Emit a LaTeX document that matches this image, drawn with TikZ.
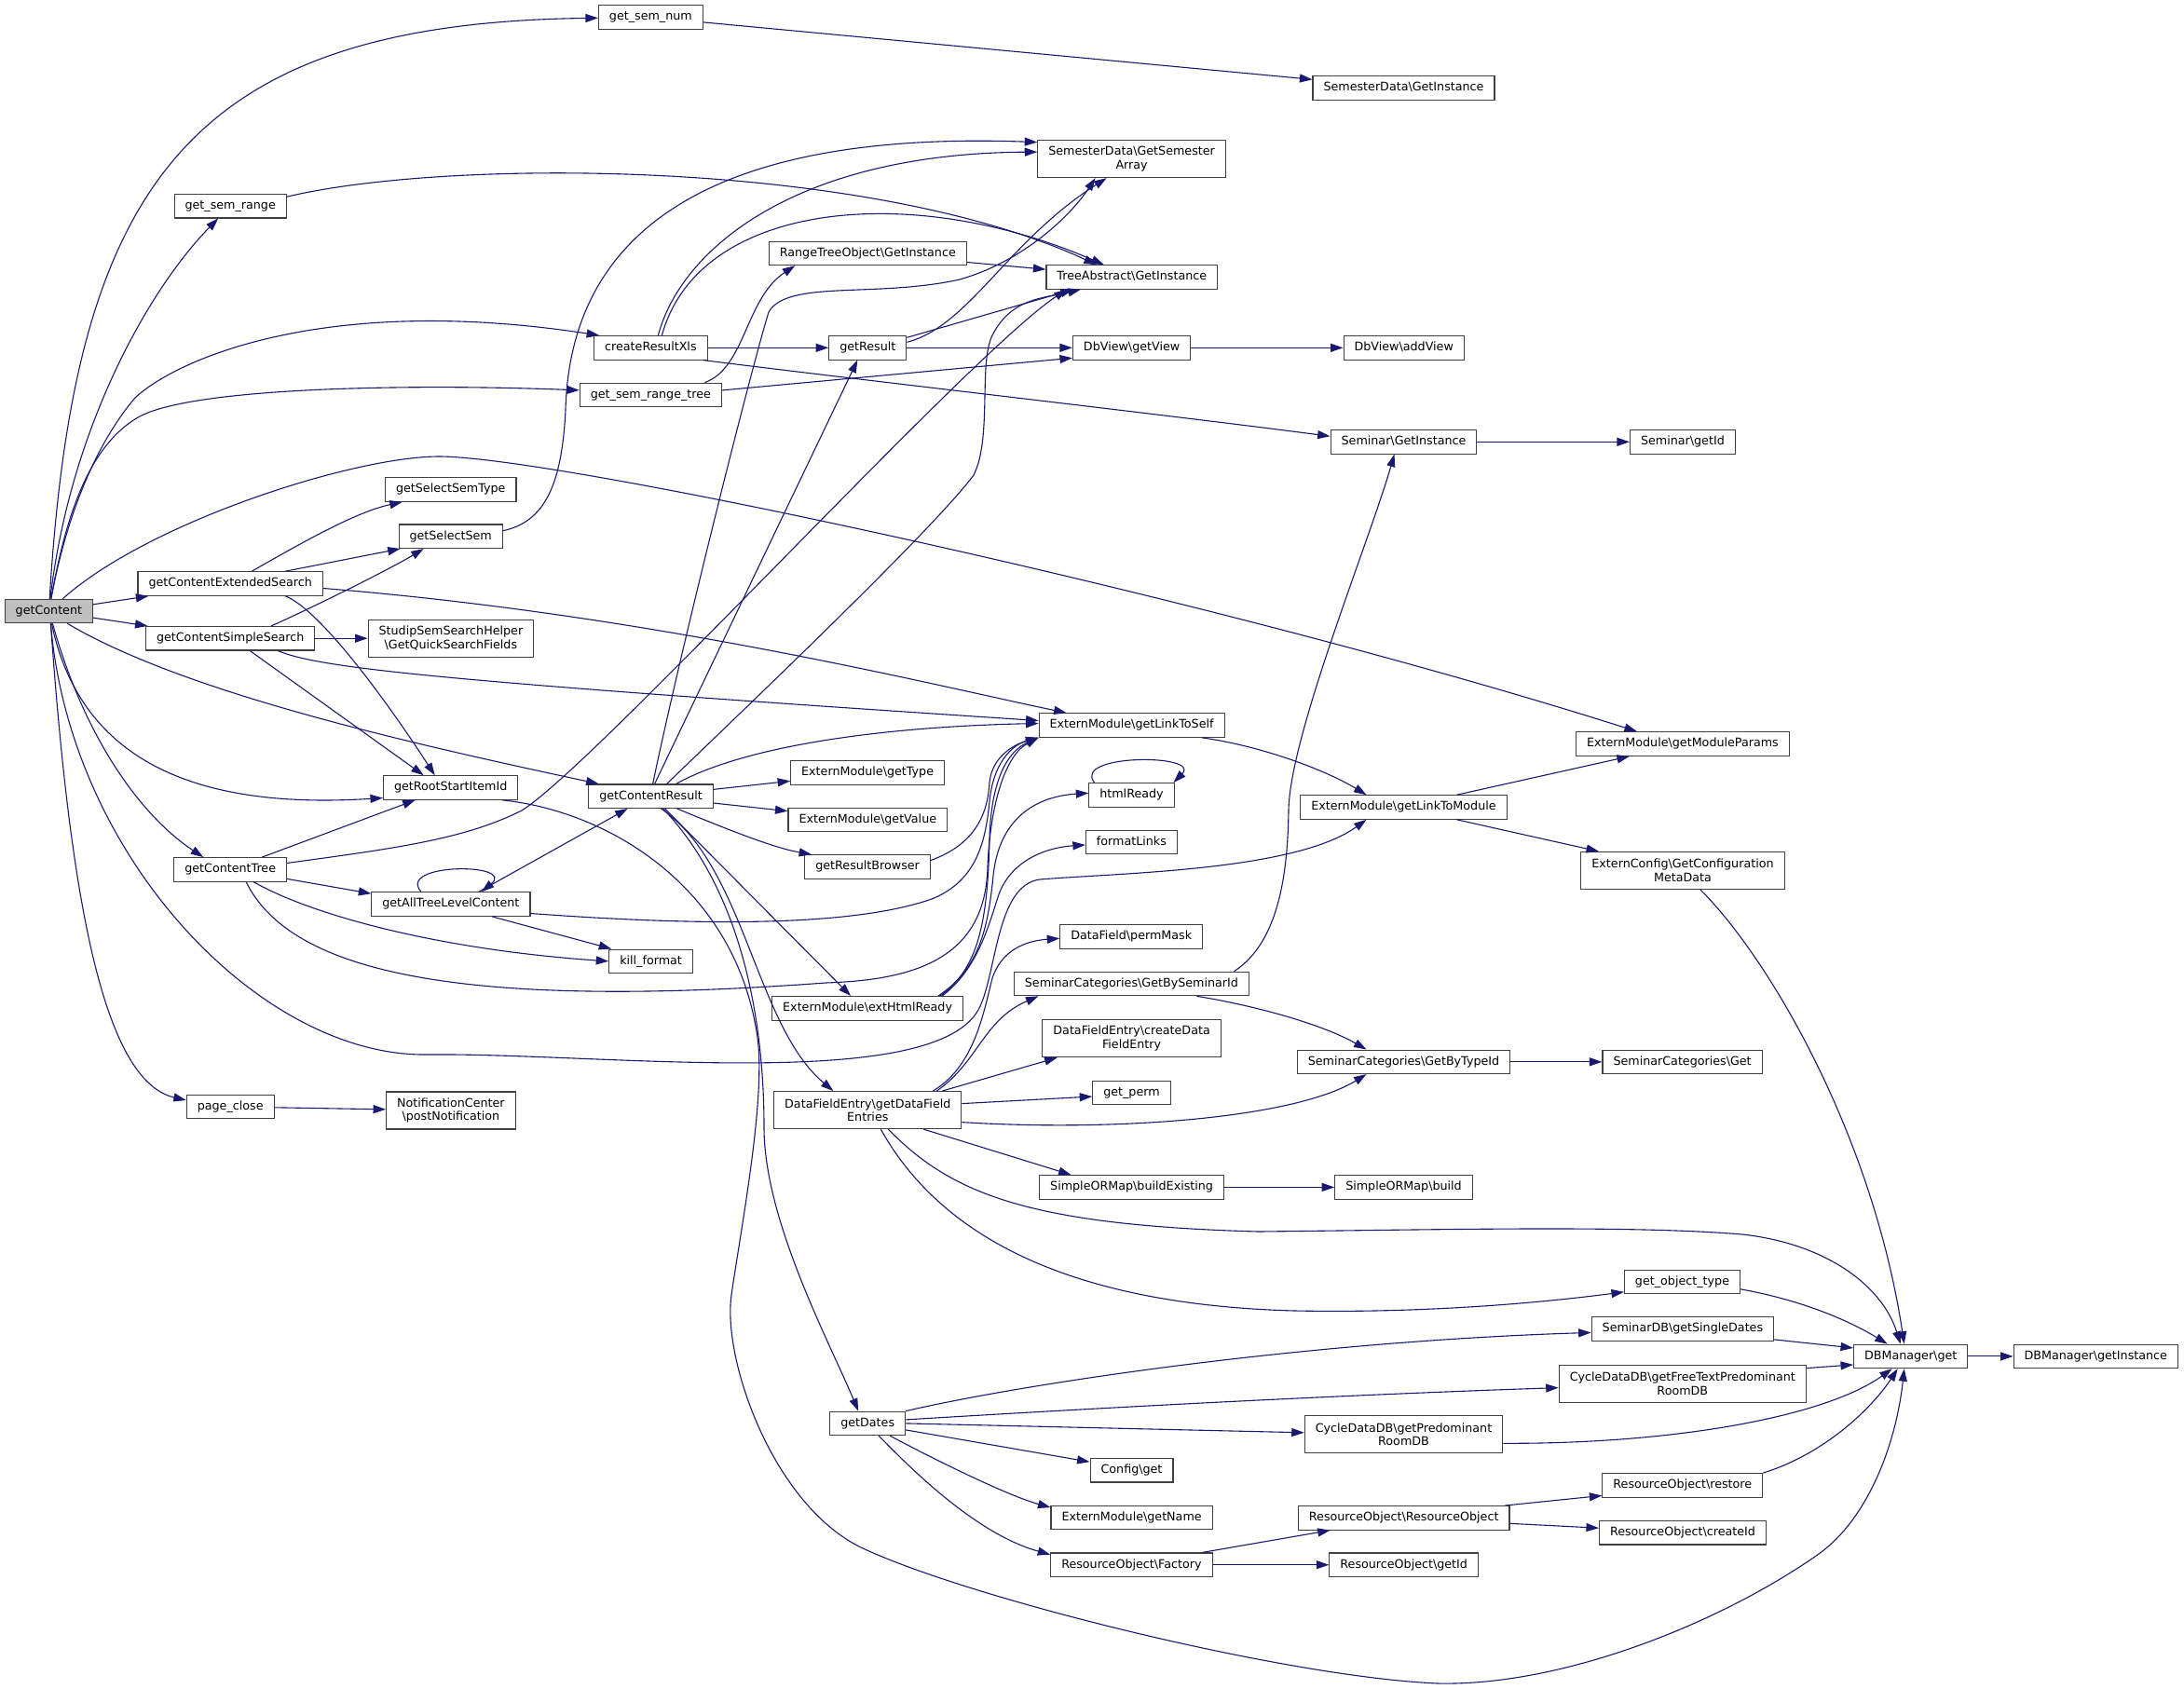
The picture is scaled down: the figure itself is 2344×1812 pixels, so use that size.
\documentclass[tikz,border=0pt]{standalone}
\usepackage{fontspec}
\setmainfont{DejaVu Sans}
\usetikzlibrary{arrows.meta}
\definecolor{edgeblue}{HTML}{191970}
\definecolor{boxline}{HTML}{404040}
\definecolor{rootfill}{HTML}{BFBFBF}
\newcommand{\bsl}{\textbackslash}

\begin{document}
\begin{tikzpicture}[x=1pt,y=-1pt,
  fn/.style={draw=boxline,line width=1.1pt,fill=white,inner xsep=11.5pt,inner ysep=6.4pt,text height=9.7pt,text depth=3pt,font={\fontsize{12.7}{14.6}\selectfont}},
  fnii/.style={draw=boxline,line width=1.1pt,fill=white,inner xsep=11.5pt,inner ysep=6pt,minimum height=40pt,align=center,font={\fontsize{12.7}{14.6}\selectfont}},
  callline/.style={draw=edgeblue,line width=1.1pt,-{Triangle[length=13.5pt,width=9pt]}}]
\path[use as bounding box,fill=white] (0,0) rectangle (2344,1812);

\node[fn,fill=rootfill] (gC) at (52.4,656) {getContent};
\node[fn] (gsn) at (698.4,18.6) {get\_sem\_num};
\node[fn] (gsr) at (247.2,221.2) {get\_sem\_range};
\node[fnii] (sdgsa) at (1214.6,170.6) {SemesterData\bsl GetSemester\\Array};
\node[fn] (sdgi) at (1506.5,94.5) {SemesterData\bsl GetInstance};
\node[fn] (rto) at (931.3,271.9) {RangeTreeObject\bsl GetInstance};
\node[fn] (tagi) at (1214.8,297.5) {TreeAbstract\bsl GetInstance};
\node[fn] (crx) at (698.4,373.3) {createResultXls};
\node[fn] (gres) at (931.3,373.3) {getResult};
\node[fn] (dbgv) at (1214.6,373.3) {DbView\bsl getView};
\node[fn] (dbav) at (1506.7,373.3) {DbView\bsl addView};
\node[fn] (gsrt) at (698.4,423.9) {get\_sem\_range\_tree};
\node[fn] (sgi) at (1506.5,474.3) {Seminar\bsl GetInstance};
\node[fn] (sid) at (1805.9,474.3) {Seminar\bsl getId};
\node[fn] (gsst) at (483.8,525.5) {getSelectSemType};
\node[fn] (gss) at (483.7,575.7) {getSelectSem};
\node[fn] (gces) at (247.2,626.5) {getContentExtendedSearch};
\node[fn] (gcss) at (247.2,685.2) {getContentSimpleSearch};
\node[fnii] (sssh) at (483.9,685.2) {StudipSemSearchHelper\\\bsl GetQuickSearchFields};
\node[fn] (elts) at (1214.6,778.5) {ExternModule\bsl getLinkToSelf};
\node[fn] (emp) at (1805.9,798.5) {ExternModule\bsl getModuleParams};
\node[fn] (gcr) at (698.6,854.7) {getContentResult};
\node[fn] (gtype) at (931.1,829.3) {ExternModule\bsl getType};
\node[fn] (grsi) at (483.7,845.5) {getRootStartItemId};
\node[fn] (hr) at (1214.5,853.3) {htmlReady};
\node[fn] (eltm) at (1506.5,866.5) {ExternModule\bsl getLinkToModule};
\node[fn] (gval) at (931.3,880) {ExternModule\bsl getValue};
\node[fn] (fl) at (1214.4,903.9) {formatLinks};
\node[fn] (grb) at (931.1,930.5) {getResultBrowser};
\node[fn] (gct) at (247.2,933.4) {getContentTree};
\node[fnii] (ecfg) at (1806,934.5) {ExternConfig\bsl GetConfiguration\\MetaData};
\node[fn] (gatl) at (483.9,970.5) {getAllTreeLevelContent};
\node[fn] (dfpm) at (1214.2,1005.3) {DataField\bsl permMask};
\node[fn] (kf) at (698.6,1031.8) {kill\_format};
\node[fn] (scbs) at (1214.4,1056) {SeminarCategories\bsl GetBySeminarId};
\node[fn] (ehr) at (931.1,1082.3) {ExternModule\bsl extHtmlReady};
\node[fnii] (dfcd) at (1214.6,1114.7) {DataFieldEntry\bsl createData\\FieldEntry};
\node[fn] (pc) at (247.2,1188) {page\_close};
\node[fnii] (nc) at (483.9,1192) {NotificationCenter\\\bsl postNotification};
\node[fnii] (dfge) at (931.3,1191.6) {DataFieldEntry\bsl getDataField\\Entries};
\node[fn] (scbt) at (1506.5,1139.8) {SeminarCategories\bsl GetByTypeId};
\node[fn] (scg) at (1805.6,1139.8) {SeminarCategories\bsl Get};
\node[fn] (gp) at (1214.5,1173) {get\_perm};
\node[fn] (sobe) at (1214.6,1274.4) {SimpleORMap\bsl buildExisting};
\node[fn] (sob) at (1506.5,1274.4) {SimpleORMap\bsl build};
\node[fn] (got) at (1805.5,1375.8) {get\_object\_type};
\node[fn] (sdb) at (1805.9,1426.4) {SeminarDB\bsl getSingleDates};
\node[fn] (dbm) at (2050.7,1455.9) {DBManager\bsl get};
\node[fn] (dbmi) at (2249.3,1455.9) {DBManager\bsl getInstance};
\node[fnii] (cfree) at (1805.8,1485.1) {CycleDataDB\bsl getFreeTextPredominant\\RoomDB};
\node[fn] (gd) at (931.2,1527.9) {getDates};
\node[fnii] (cpre) at (1506.5,1539.8) {CycleDataDB\bsl getPredominant\\RoomDB};
\node[fn] (cfg) at (1214.5,1578.2) {Config\bsl get};
\node[fn] (ror) at (1805.8,1594.4) {ResourceObject\bsl restore};
\node[fn] (emgn) at (1214.6,1629.1) {ExternModule\bsl getName};
\node[fn] (roro) at (1506.7,1629.3) {ResourceObject\bsl ResourceObject};
\node[fn] (roc) at (1806,1645.2) {ResourceObject\bsl createId};
\node[fn] (rof) at (1214.4,1679.7) {ResourceObject\bsl Factory};
\node[fn] (roid) at (1506.7,1679.7) {ResourceObject\bsl getId};

\draw[callline] (gC) .. controls (80,200) and (200,25) .. (gsn);
\draw[callline] (gC) .. controls (75,460) and (160,310) .. (gsr);
\draw[callline] (gC) .. controls (70,560) and (100,480) .. (145,427) .. controls (190,385) and (350,315) .. ([xshift=6pt]crx.north west);
\draw[callline] (gC) .. controls (68,570) and (90,480) .. (150,447) .. controls (210,415) and (450,412) .. ([yshift=5pt]gsrt.west);
\draw[callline] (gC) .. controls (160,560) and (380,490) .. (471,490) .. controls (600,490) and (1300,640) .. ([xshift=-49pt]emp.north);
\draw[callline] (gC) -- (gces);
\draw[callline] (gC) -- (gcss);
\draw[callline] ([xshift=20pt]gC.south) .. controls (200,745) and (450,800) .. ([xshift=-56pt]gcr.north);
\draw[callline] ([xshift=3pt]gC.south) .. controls (85,810) and (200,870) .. ([yshift=-11pt]grsi.west);
\draw[callline] ([xshift=4pt]gC.south) .. controls (90,790) and (150,875) .. ([xshift=-29pt]gct.north);
\draw[callline] ([xshift=2pt]gC.south) .. controls (75,920) and (280,1135) .. (459,1132) .. controls (650,1130) and (1010,1175) .. (1052,1080) .. controls (1070,1040) and (1070,950) .. (1116,944) .. controls (1200,937) and (1390,935) .. ([xshift=-40pt]eltm.south);
\draw[callline] ([xshift=2pt]gC.south) .. controls (75,960) and (110,1160) .. ([yshift=7pt]pc.west);

\draw[callline] ([xshift=23pt]gces.north) .. controls (320,585) and (380,550) .. ([xshift=-52pt]gsst.south);
\draw[callline] ([xshift=59pt]gces.north) -- ([xshift=-54pt]gss.south);
\draw[callline] ([xshift=59pt]gces.south) .. controls (345,655) and (420,760) .. ([xshift=-17pt]grsi.north);
\draw[callline] ([yshift=-5pt]gces.east) .. controls (700,660) and (1000,735) .. ([xshift=-70pt]elts.north);
\draw[callline] ([xshift=44pt]gcss.north) .. controls (340,650) and (420,610) .. ([xshift=-29pt]gss.south);
\draw[callline] (gcss) -- (sssh);
\draw[callline] ([xshift=21pt]gcss.south) -- ([xshift=-29pt]grsi.north);
\draw[callline] ([xshift=51pt]gcss.south) .. controls (340,716) and (450,730) .. ([yshift=5pt]elts.west);
\draw[callline] ([xshift=34pt]gct.north) -- ([xshift=-38pt]grsi.south);
\draw[callline] ([yshift=-10pt]gct.east) -- ([yshift=-2pt]gatl.north west);
\draw[callline] ([xshift=25pt]gct.south) .. controls (340,985) and (480,1020) .. (kf.west);
\draw[callline] ([xshift=17pt]gct.south) .. controls (310,1040) and (480,1085) .. (886,1055) .. controls (980,1052) and (1058,1030) .. (1060,930) .. controls (1063,860) and (1080,810) .. (elts.south west);
\draw[callline] ([yshift=7pt]gct.east) .. controls (430,910) and (500,900) .. (560,870) .. controls (640,820) and (1040,380) .. ([xshift=-70pt]tagi.south);
\draw[callline] (pc) -- (nc);

\draw[callline] ([xshift=-32pt]gatl.north) .. controls (425,926) and (555,926) .. ([xshift=33pt]gatl.north);
\draw[callline] ([xshift=30pt]gatl.north) -- ([xshift=-25pt]gcr.south);
\draw[callline] ([yshift=-10pt]gatl.east) .. controls (700,990) and (900,1000) .. (1000,965) .. controls (1050,945) and (1058,900) .. (1062,860) .. controls (1066,820) and (1085,800) .. (elts.south west);
\draw[callline] ([xshift=44pt]gatl.south) -- ([xshift=3pt]kf.north west);
\draw[callline] ([yshift=6pt]gss.east) .. controls (585,560) and (603,520) .. (607,440) .. controls (612,250) and (760,140) .. ([yshift=18pt]sdgsa.west);
\draw[callline] ([xshift=55pt]grsi.south) .. controls (650,870) and (790,950) .. (813,1114) .. controls (822,1180) and (795,1320) .. (785,1390) .. controls (775,1460) and (830,1615) .. (924,1661) .. controls (1040,1716) and (1380,1800) .. (1543,1807) .. controls (1680,1810) and (1850,1740) .. (1952,1668) .. controls (2005,1630) and (2035,1550) .. ([xshift=-7pt]dbm.south);

\draw[callline] (gsn) -- (sdgi);
\draw[callline] ([yshift=10pt]gsr.east) .. controls (480,170) and (930,170) .. ([xshift=-38pt]tagi.north);
\draw[callline] ([xshift=8pt]crx.north) .. controls (730,270) and (850,165) .. ([yshift=7.5pt]sdgsa.west);
\draw[callline] ([xshift=12pt]crx.north) .. controls (750,215) and (980,195) .. ([xshift=-30pt]tagi.north);
\draw[callline] (crx) -- (gres);
\draw[callline] ([xshift=-5pt]crx.south east) .. controls (900,405) and (1250,445) .. ([yshift=6pt]sgi.west);
\draw[callline] ([xshift=58pt]gsrt.north) .. controls (800,395) and (800,320) .. ([xshift=-78pt]rto.south);
\draw[callline] ([yshift=5pt]gsrt.east) -- ([yshift=-11pt]dbgv.west);
\draw[callline] ([xshift=4pt]gcr.north) -- ([xshift=-11pt]gres.south);
\draw[callline] ([xshift=2pt]gcr.north) .. controls (730,700) and (805,400) .. (825,335) .. controls (845,300) and (940,320) .. (1030,300) .. controls (1100,280) and (1150,230) .. ([xshift=-39pt]sdgsa.south);
\draw[callline] ([xshift=17pt]gcr.north) .. controls (800,760) and (1000,570) .. (1045,510) .. controls (1065,470) and (1050,390) .. (1065,360) .. controls (1085,320) and (1120,320) .. ([xshift=-55pt]tagi.south);
\draw[callline] ([xshift=27pt]gcr.north) .. controls (800,800) and (950,780) .. ([yshift=2pt]elts.west);
\draw[callline] (gcr) -- (gtype);
\draw[callline] (gcr) -- (gval);
\draw[callline] ([xshift=28pt]gcr.south) .. controls (780,890) and (830,910) .. ([xshift=-60pt]grb.north);
\draw[callline] ([xshift=15pt]gcr.south) -- ([xshift=-18pt]ehr.north);
\draw[callline] ([xshift=11pt]gcr.south) .. controls (800,930) and (810,1100) .. ([xshift=-37pt]dfge.north);
\draw[callline] ([xshift=13pt]gcr.south) .. controls (790,950) and (820,1080) .. (820,1210) .. controls (820,1310) and (890,1440) .. ([xshift=-10pt]gd.north);

\draw[callline] ([yshift=6pt]gres.east) .. controls (1040,350) and (1080,260) .. ([xshift=-27pt]sdgsa.south);
\draw[callline] ([yshift=11pt]gres.east) -- ([xshift=-63pt]tagi.south);
\draw[callline] (gres) -- (dbgv);
\draw[callline] (rto) -- (tagi);
\draw[callline] (dbgv) -- (dbav);
\draw[callline] (sgi) -- (sid);
\draw[callline] ([xshift=78pt]ehr.north) .. controls (1050,1040) and (1060,990) .. (1062,900) .. controls (1064,830) and (1085,805) .. (elts.south west);
\draw[callline] ([xshift=76pt]ehr.north) .. controls (1050,1040) and (1060,1000) .. (1066,940) .. controls (1072,880) and (1110,855) .. ([yshift=2pt]hr.west);
\draw[callline] ([xshift=80pt]ehr.north) .. controls (1050,1040) and (1062,990) .. (1072,960) .. controls (1085,925) and (1120,910) .. ([yshift=-3pt]fl.west);
\draw[callline] ([yshift=7pt]grb.east) .. controls (1050,905) and (1060,870) .. (1062,840) .. controls (1064,815) and (1085,800) .. (elts.south west);
\draw[callline] ([xshift=70pt]dfge.north) .. controls (1045,1145) and (1055,1090) .. (1065,1050) .. controls (1075,1020) and (1100,1010) .. ([yshift=-2pt]dfpm.west);
\draw[callline] ([xshift=74pt]dfge.north) .. controls (1050,1140) and (1055,1095) .. ([xshift=-100pt]scbs.south);
\draw[callline] ([xshift=80pt]dfge.north) -- ([xshift=-80pt]dfcd.south);
\draw[callline] ([yshift=7pt]dfge.east) -- ([yshift=-4pt]gp.west);
\draw[callline] ([yshift=-13pt]dfge.east) .. controls (1200,1215) and (1390,1200) .. ([xshift=-40pt]scbt.south);
\draw[callline] ([xshift=60pt]dfge.south) -- ([xshift=-65pt]sobe.north);
\draw[callline] ([xshift=22pt]dfge.south) .. controls (1020,1280) and (1100,1315) .. (1350,1322) .. controls (1550,1320) and (1750,1315) .. (1870,1325) .. controls (1960,1335) and (2020,1380) .. ([xshift=-11pt]dbm.north);
\draw[callline] ([xshift=14pt]dfge.south) .. controls (1000,1310) and (1120,1400) .. (1390,1407) .. controls (1550,1410) and (1680,1395) .. ([yshift=-11pt]got.west);
\draw[callline] (gd.north east) .. controls (1100,1485) and (1400,1440) .. ([yshift=-4pt]sdb.west);
\draw[callline] ([yshift=4pt]gd.east) .. controls (1200,1510) and (1450,1497) .. ([yshift=-4.5pt]cfree.west);
\draw[callline] (gd.east) -- ([yshift=2pt]cpre.west);
\draw[callline] ([yshift=-7pt]gd.east) -- ([yshift=9pt]cfg.west);
\draw[callline] ([xshift=24pt]gd.south) .. controls (1000,1565) and (1080,1605) .. ([yshift=11pt]emgn.west);
\draw[callline] ([xshift=12pt]gd.south) .. controls (1000,1600) and (1060,1650) .. ([yshift=11pt]rof.west);

\draw[callline] ([xshift=75pt]elts.south) .. controls (1350,800) and (1420,825) .. ([xshift=-40pt]eltm.north);
\draw[callline] ([xshift=-40pt]hr.north) .. controls (1150,809) and (1290,809) .. ([xshift=45pt]hr.north);
\draw[callline] ([xshift=110pt]scbs.north) .. controls (1375,1010) and (1382,930) .. (1383,870) .. controls (1384,790) and (1470,580) .. ([xshift=-10pt]sgi.south);
\draw[callline] ([xshift=70pt]scbs.south) .. controls (1350,1080) and (1420,1100) .. ([xshift=-40pt]scbt.north);
\draw[callline] (sobe) -- (sob);
\draw[callline] ([xshift=76pt]rof.north) -- ([xshift=-79pt]roro.south);
\draw[callline] (rof) -- (roid);

\draw[callline] ([xshift=57pt]eltm.north) -- ([xshift=-57pt]emp.south);
\draw[callline] ([xshift=57pt]eltm.south) -- ([xshift=-90pt]ecfg.north);
\draw[callline] (scbt) -- (scg);
\draw[callline] ([yshift=-9.5pt]cpre.east) .. controls (1800,1550) and (1960,1520) .. ([xshift=-20pt]dbm.south);
\draw[callline] ([xshift=-5pt]roro.north east) -- ([yshift=-11pt]ror.west);
\draw[callline] ([yshift=-6pt]roro.east) -- ([yshift=5pt]roc.west);

\draw[callline] ([xshift=19pt]ecfg.south) .. controls (1900,1030) and (2010,1220) .. ([xshift=-7pt]dbm.north);
\draw[callline] ([yshift=-8pt]got.east) .. controls (1930,1395) and (1980,1415) .. ([xshift=-25pt]dbm.north);
\draw[callline] ([yshift=-11.5pt]sdb.east) -- ([yshift=9pt]dbm.west);
\draw[callline] ([yshift=16.5pt]cfree.east) -- ([yshift=-9pt]dbm.west);
\draw[callline] (ror.north east) .. controls (1960,1560) and (2010,1510) .. ([xshift=-14pt]dbm.south);
\draw[callline] (dbm) -- (dbmi);

\end{tikzpicture}
\end{document}
